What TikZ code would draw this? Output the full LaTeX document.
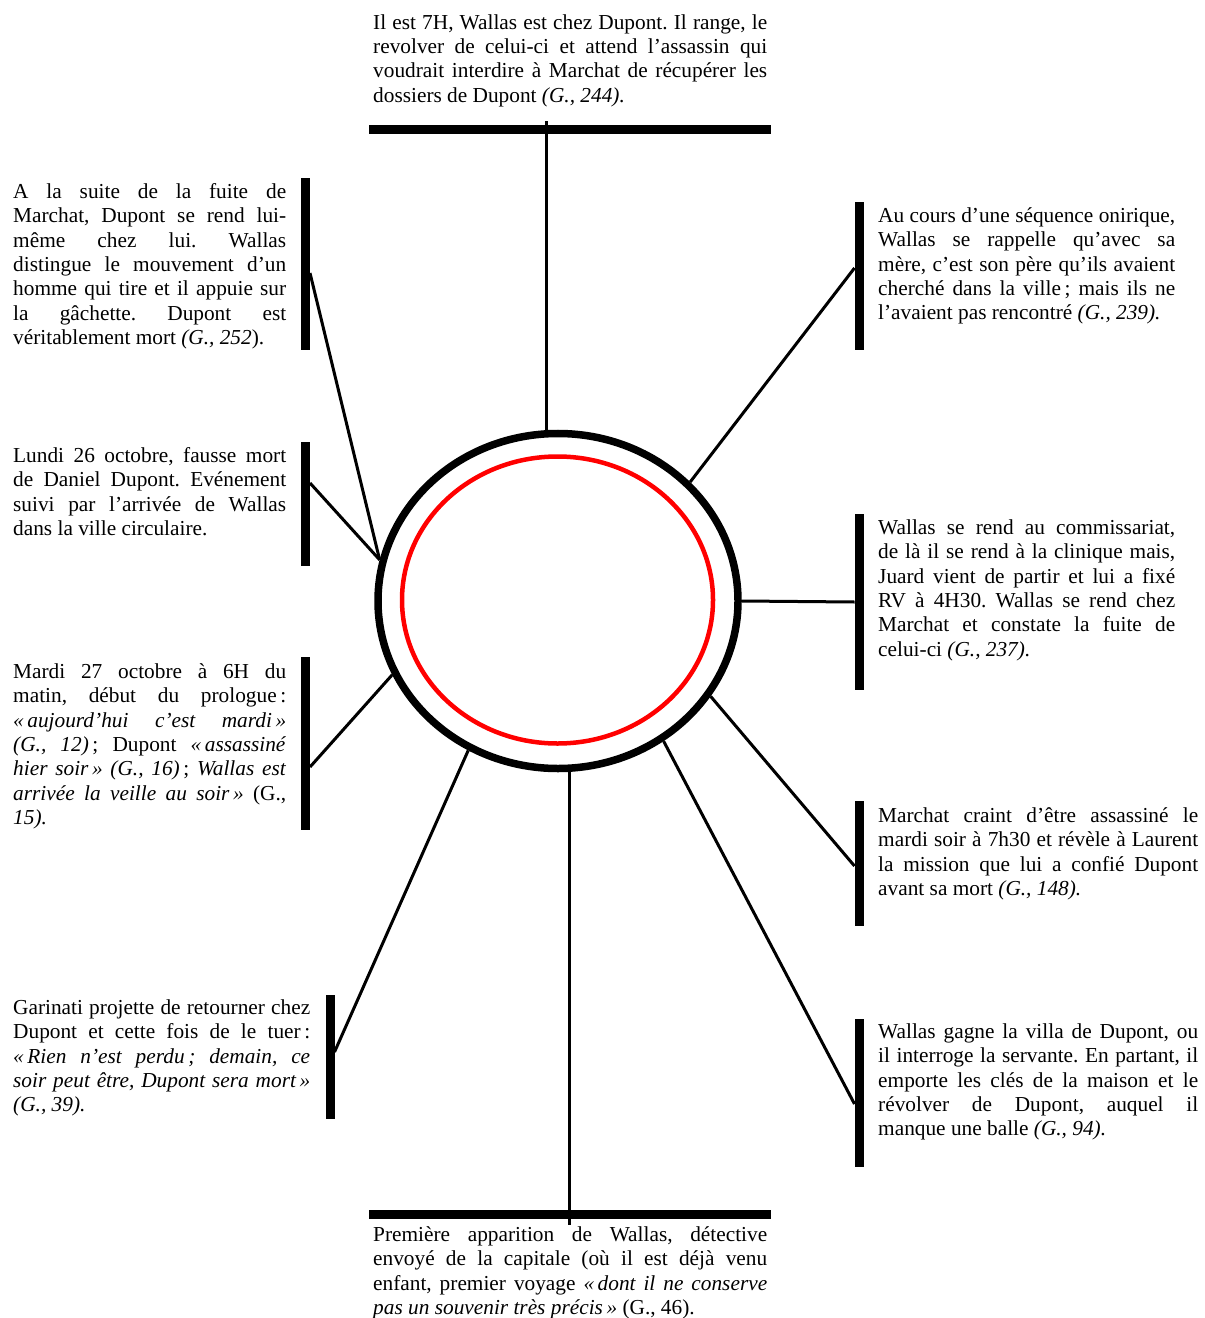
\documentclass[tikz,border=0pt]{standalone}
\usepackage{fontspec}
\setmainfont{Liberation Serif}
\usetikzlibrary{shapes.geometric,positioning}
\frenchspacing

\begin{document}
\begin{tikzpicture}[x=1bp,y=-1bp,
event/.style={align=justify,inner sep=0pt,anchor=north west,text width=#1,font=\fontsize{21.4}{24.5}\selectfont},
vbar/.style={fill=black,inner sep=0pt,outer sep=0pt,minimum width=9bp,minimum height=#1},
hbar/.style={fill=black,inner sep=0pt,outer sep=0pt,minimum width=402bp,minimum height=9bp},
spoke/.style={line width=3bp}]
\useasboundingbox (0,0) rectangle (1204,1318);
% the two rings
\node[draw,ellipse,line width=7.5bp,inner sep=0pt,minimum width=360bp,minimum height=335bp] (ring) at (558,601) {};
\node[draw=red,ellipse,line width=4.5bp,inner sep=0pt,minimum width=311bp,minimum height=287bp] (core) at (557.5,600) {};
% bars
\node[hbar] (topbar) at (570,130) {};
\node[hbar] (botbar) at (570,1214) {};
\node[vbar=172bp] (la) at (305.5,264) {};
\node[vbar=124bp] (lb) at (305.5,504) {};
\node[vbar=173bp] (lc) at (305.5,743.5) {};
\node[vbar=124bp] (ld) at (330,1057) {};
\node[vbar=148bp] (ra) at (859,276) {};
\node[vbar=176bp] (rb) at (859,602) {};
\node[vbar=125bp] (rc) at (859,863.5) {};
\node[vbar=148bp] (rd) at (859,1093) {};
% texts
\node[event=394bp] (ttop) at (373,11.9) {\strut Il est 7H, Wallas est chez Dupont. Il range, le\linebreak
revolver de celui-ci et attend l’assassin qui\linebreak
voudrait interdire à Marchat de récupérer les\linebreak
dossiers de Dupont \textit{(G., 244).}};
\node[event=273bp] (tla) at (13,180.9) {\strut A la suite de la fuite de\linebreak
Marchat, Dupont se rend lui-\linebreak
même chez lui. Wallas\linebreak
distingue le mouvement d’un\linebreak
homme qui tire et il appuie sur\linebreak
la gâchette. Dupont est\linebreak
véritablement mort \textit{(G., 252}).};
\node[event=273bp] (tlb) at (13,444.9) {\strut Lundi 26 octobre, fausse mort\linebreak
de Daniel Dupont. Evénement\linebreak
suivi par l’arrivée de Wallas\linebreak
dans la ville circulaire.};
\node[event=273bp] (tlc) at (13,660.9) {\strut Mardi 27 octobre à 6H du\linebreak
matin, début du prologue\,:\linebreak
\textit{«\,aujourd’hui c’est mardi\,»}\linebreak
\textit{(G., 12)}\,; Dupont \textit{«\,assassiné}\linebreak
\textit{hier soir\,» (G., 16)}\,; \textit{Wallas est}\linebreak
\textit{arrivée la veille au soir\,»} (G.,\linebreak
\textit{15).}};
\node[event=297bp] (tld) at (13,996.9) {\strut Garinati projette de retourner chez\linebreak
Dupont et cette fois de le tuer\,:\linebreak
\textit{«\,Rien n’est perdu\,; demain, ce}\linebreak
\textit{soir peut être, Dupont sera mort\,»}\linebreak
\textit{(G., 39).}};
\node[event=297bp] (tra) at (878,204.9) {\strut Au cours d’une séquence onirique,\linebreak
Wallas se rappelle qu’avec sa\linebreak
mère, c’est son père qu’ils avaient\linebreak
cherché dans la ville\,; mais ils ne\linebreak
l’avaient pas rencontré \textit{(G., 239).}};
\node[event=297bp] (trb) at (878,516.9) {\strut Wallas se rend au commissariat,\linebreak
de là il se rend à la clinique mais,\linebreak
Juard vient de partir et lui a fixé\linebreak
RV à 4H30. Wallas se rend chez\linebreak
Marchat et constate la fuite de\linebreak
celui-ci \textit{(G., 237).}};
\node[event=320bp] (trc) at (878,804.9) {\strut Marchat craint d’être assassiné le\linebreak
mardi soir à 7h30 et révèle à Laurent\linebreak
la mission que lui a confié Dupont\linebreak
avant sa mort \textit{(G., 148).}};
\node[event=320bp] (trd) at (878,1020.9) {\strut Wallas gagne la villa de Dupont, ou\linebreak
il interroge la servante. En partant, il\linebreak
emporte les clés de la maison et le\linebreak
révolver de Dupont, auquel il\linebreak
manque une balle \textit{(G., 94).}};
\node[event=394bp] (tbot) at (373,1223.9) {\strut Première apparition de Wallas, détective\linebreak
envoyé de la capitale (où il est déjà venu\linebreak
enfant, premier voyage \textit{«\,dont il ne conserve}\linebreak
\textit{pas un souvenir très précis\,»} (G., 46).};
% spokes
\draw[spoke] (ring.94) -- ([yshift=4bp]ring.94 |- topbar.north);
\draw[spoke] (ring.274) -- ([yshift=-6bp]ring.274 |- botbar.south);
\draw[spoke] ([yshift=-9bp]la.east) -- (ring.167);
\draw[spoke] ([yshift=21bp]lb.east) -- (ring.167);
\draw[spoke] ([yshift=-23.5bp]lc.east) -- (ring.204);
\draw[spoke] ([yshift=5bp]ld.east) -- (ring.239);
\draw[spoke] ([yshift=8bp]ra.west) -- (ring.42);
\draw[spoke] (rb.west) -- (ring.0);
\draw[spoke] ([yshift=-2.5bp]rc.west) -- (ring.328);
\draw[spoke] ([yshift=-11bp]rd.west) -- (ring.307);
\end{tikzpicture}
\end{document}
